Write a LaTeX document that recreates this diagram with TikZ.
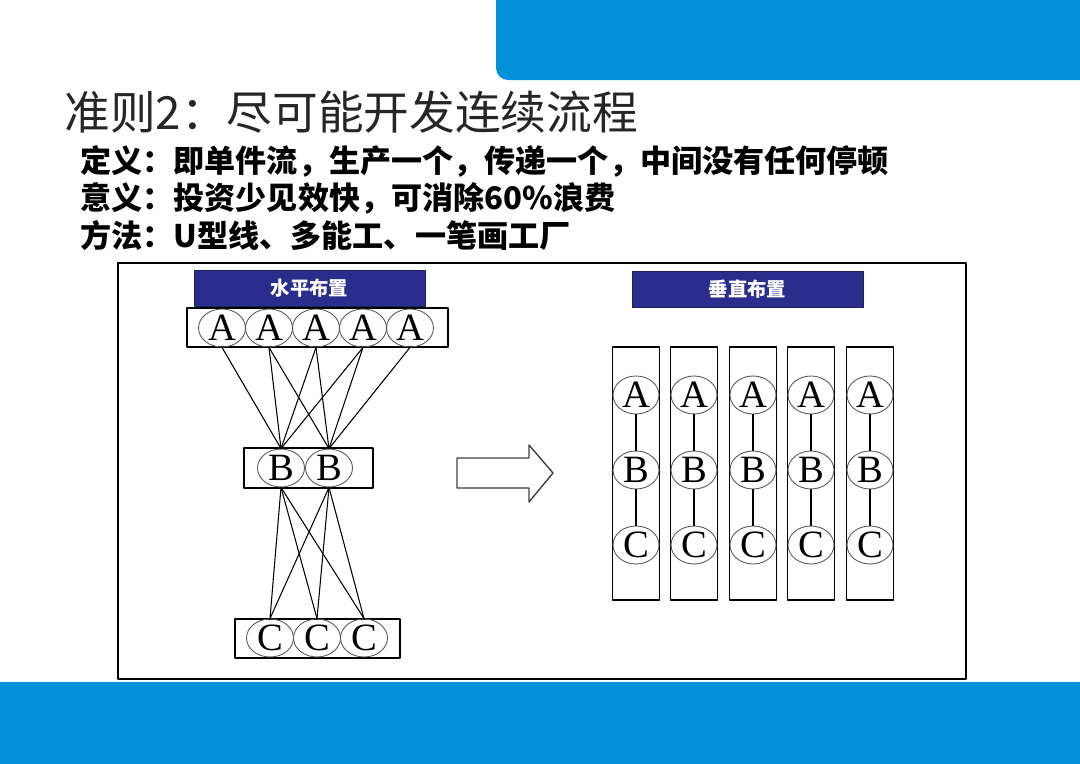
\documentclass[tikz,border=0pt]{standalone}
\usepackage{fontspec}
\usetikzlibrary{shapes.geometric}
\newfontfamily\cjk{Noto Sans CJK SC}
\newfontfamily\letterfont{Liberation Serif}
\definecolor{slideblue}{RGB}{2,145,216}
\definecolor{tagblue}{RGB}{43,45,140}

\begin{document}
\begin{tikzpicture}[x=0.02cm, y=-0.02cm, line cap=round, line join=round,
    letter/.style={ellipse, draw=black!65, line width=0.5pt, minimum width=0.94cm, minimum height=0.76cm, inner sep=0pt, font=\letterfont\fontsize{22}{22}\selectfont},
    row/.style={draw, line width=0.7pt, inner sep=0pt},
    tag/.style={fill=tagblue, draw=tagblue!70!black, minimum width=4.62cm, minimum height=0.72cm, inner sep=0pt, text=white, font=\cjk\bfseries\fontsize{11}{11}\selectfont},
    link/.style={line width=0.6pt}]
    \useasboundingbox (0,0) rectangle (1080,764);

    % blue bands
    \begin{scope}
      \clip (0,0) rectangle (1080,764);
      \fill[slideblue, rounded corners=0.24cm] (496,-30) rectangle (1110,80);
    \end{scope}
    \fill[slideblue] (0,682) rectangle (1080,764);

    % heading
    \node[anchor=west, inner sep=0pt, font=\cjk\fontsize{26}{26}\selectfont, text=black!85] (title) at (64,112) {准则2：尽可能开发连续流程};
    \begin{scope}[every node/.style={anchor=west, inner sep=0pt, font=\cjk\bfseries\fontsize{17.7}{17.7}\selectfont}]
      \node (define) at (80,161) {定义：即单件流，生产一个，传递一个，中间没有任何停顿};
      \node (meaning) at (80,198) {意义：投资少见效快，可消除60\%浪费};
      \node (method) at (80,235) {方法：U型线、多能工、一笔画工厂};
    \end{scope}

    \draw[line width=1.6pt] (118,263) rectangle (966,679);

    % horizontal layout
    \node[tag] (horiz) at (309.5,288) {水平布置};
    \node[row, minimum width=5.22cm, minimum height=0.78cm] (rowa) at (317.5,327.5) {};
    \node[row, minimum width=2.58cm, minimum height=0.8cm] (rowb) at (308.5,468) {};
    \node[row, minimum width=3.3cm, minimum height=0.78cm] (rowc) at (317.5,638.5) {};
    \foreach \x [count=\i] in {222,269,316,363,410}
      \node[letter] (a\i) at (\x,328) {A};
    \foreach \x [count=\i] in {281,329}
      \node[letter] (b\i) at (\x,468) {B};
    \foreach \x [count=\i] in {270,317,364}
      \node[letter] (c\i) at (\x,638) {C};

    \foreach \s/\t in {1/1,2/1,2/2,3/1,3/2,4/1,4/2,5/2}
      \draw[link] (a\s.south) -- (b\t.north);
    \foreach \s in {1,2}
      \foreach \t in {1,2,3}
        \draw[link] (b\s.south) -- (c\t.north);

    % arrow
    \draw[line width=0.8pt, black!75] (457,458) -- (529,458) -- (529,445) -- (553,473) -- (529,502) -- (529,488) -- (457,488) -- cycle;

    % vertical layout
    \node[tag] (vert) at (747.5,289.5) {垂直布置};
    \foreach \x [count=\i] in {636,694,753,811,870} {
      \node[row, minimum width=0.94cm, minimum height=5.06cm] (col\i) at (\x,473.5) {};
      \node[letter, minimum width=0.92cm] (va\i) at (\x,395) {A};
      \node[letter, minimum width=0.92cm] (vb\i) at (\x,470) {B};
      \node[letter, minimum width=0.92cm] (vc\i) at (\x,545) {C};
      \draw[link] (va\i) -- (vb\i);
      \draw[link] (vb\i) -- (vc\i);
    }

  \end{tikzpicture}
\end{document}
